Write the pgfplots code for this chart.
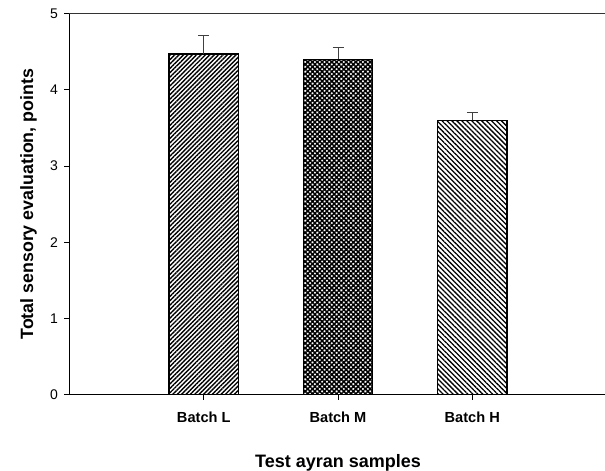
\documentclass[border=0pt]{standalone}
\usepackage{pgfplots}
\pgfplotsset{compat=1.18}
\usepackage{fontspec}
\setmainfont{Liberation Sans}
\usetikzlibrary{patterns.meta}
\begin{document}
\begin{tikzpicture}
\begin{axis}[
  name=ax,
  scale only axis,
  width=537bp, height=381bp,
  xmin=-1, xmax=3,
  ymin=0, ymax=5,
  axis lines=left,
  axis line style={-, line width=1bp},
  tick align=outside,
  tick style={black, line width=0.8bp},
  major tick length=5bp,
  xtick={0,1,2},
  xticklabels={Batch L, Batch M, Batch H},
  ytick={0,1,2,3,4,5},
  /pgf/number format/assume math mode=true,
  xticklabel style={font=\fontsize{14.6bp}{17bp}\selectfont\bfseries, yshift=-9bp},
  yticklabel style={font=\fontsize{14bp}{16bp}\selectfont, xshift=-3bp},
  xlabel={Test ayran samples},
  ylabel={Total sensory evaluation, points},
  xlabel style={font=\fontsize{18bp}{21bp}\selectfont\bfseries, at={(axis description cs:0.5,-0.1903)}, anchor=base},
  ylabel style={font=\fontsize{17.8bp}{21bp}\selectfont\bfseries, at={(axis description cs:-0.0765,0.5)}, anchor=center},
  ybar, bar width=69.6bp, bar shift=0pt,
  clip=false,
]
\addplot[draw=black, line width=1.3bp, pattern={Lines[angle=45, distance=3.1bp, line width=1.4bp]},
  error bars/.cd, y dir=plus, y explicit,
  error bar style={line width=1bp, black!75},
  error mark options={rotate=90, mark size=5.5bp, line width=1bp, black!75}]
  coordinates {(0,4.47) +- (0,0.25)};
\addplot[draw=black, line width=1.3bp, pattern={Hatch[angle=45, distance=3.4bp, line width=1.5bp]},
  error bars/.cd, y dir=plus, y explicit,
  error bar style={line width=1bp, black!75},
  error mark options={rotate=90, mark size=5.5bp, line width=1bp, black!75}]
  coordinates {(1,4.40) +- (0,0.156)};
\addplot[draw=black, line width=1.3bp, pattern={Lines[angle=-45, distance=3.5bp, line width=1.3bp]},
  error bars/.cd, y dir=plus, y explicit,
  error bar style={line width=1bp, black!75},
  error mark options={rotate=90, mark size=5.5bp, line width=1bp, black!75}]
  coordinates {(2,3.60) +- (0,0.105)};
\draw[line width=1bp, black!80] (rel axis cs:0,1) -- (rel axis cs:1,1);
\end{axis}
\pgfresetboundingbox
\path ([xshift=-69.5bp,yshift=-76bp]ax.south west) rectangle ([xshift=-1.5bp,yshift=13.7bp]ax.north east);
\end{tikzpicture}
\end{document}
